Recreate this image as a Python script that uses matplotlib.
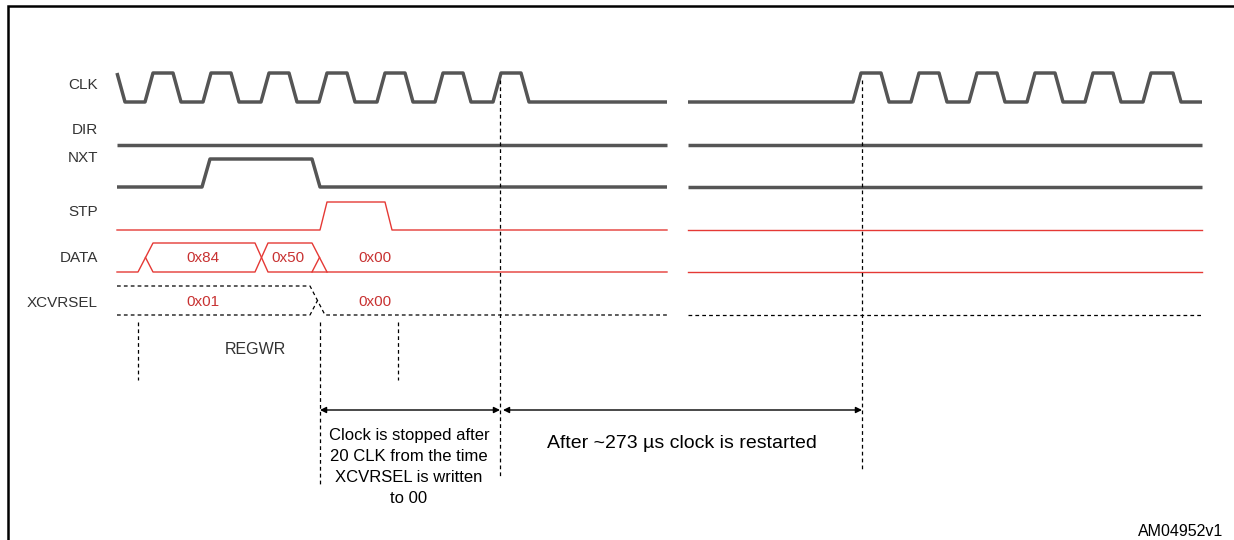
"""
ULPI register write / clock stop timing diagram.
"""

import matplotlib
matplotlib.use("Agg")
import matplotlib.pyplot as plt

GRAY = '#555555'
RED = '#e53935'
TXT_RED = '#c83232'
LABEL = '#333333'

# signal names and where their labels sit (row centre, px)
signal_names = ['CLK', 'DIR', 'NXT', 'STP', 'DATA', 'XCVRSEL']
label_y = [85, 130, 158, 212, 258, 303]

# levels of each row (low, high)
clk_lv = (102, 73)
dir_lv = 145
nxt_lv = (187, 159)
stp_lv = (230, 202)
data_lv = (272, 243)
xcvr_lv = (315, 286)

# time span of the two drawn segments (gap = time cut)
seg1 = (117, 667)
seg2 = (688, 1202)

# clock edges (start of each transition)
clk_edges_1 = [117, 145, 173, 203, 231, 261, 289, 319, 347, 377, 405, 435, 463, 493, 521]
clk_edges_2 = [853, 881, 911, 939, 969, 997, 1027, 1055, 1085, 1113, 1143, 1173]
nxt_edges = [202, 312]
stp_edges = [320, 385]

# bus events: open, cross, close
data_open, data_cross, data_close = 138, 255, 312
xcvr_close = 310
data_values = ['0x84', '0x50', '0x00']
xcvr_values = ['0x01', '0x00']

# vertical markers (x, y top, y bottom)
markers = [(138, 322, 380), (320, 322, 485), (398, 322, 380), (500, 80, 476), (862, 80, 470)]
arrow_y = 410


def wave(t0, t1, edges, start_high, lo, hi, ramp=8):
    lvl = start_high
    xs, ys = [t0], [hi if lvl else lo]
    for e in edges:
        xs += [e, e + ramp]
        ys += [hi if lvl else lo, lo if lvl else hi]
        lvl = not lvl
    xs.append(t1)
    ys.append(hi if lvl else lo)
    return xs, ys


fig = plt.figure(figsize=(12.34, 5.4), dpi=100)
ax = fig.add_axes([0, 0, 1, 1])
ax.set_xlim(0, 1234)
ax.set_ylim(540, 0)
ax.axis('off')

# frame (only top and left edges are inside the picture)
ax.plot([8, 8, 1240], [545, 6, 6], color='black', lw=1.8, solid_joinstyle='miter')

thick = dict(color=GRAY, lw=2.5, solid_capstyle='butt', solid_joinstyle='round')
thin = dict(color=RED, lw=1.0)
dash = dict(color='black', lw=0.9, ls=(0, (3, 2.5)))

# CLK
ax.plot(*wave(*seg1, clk_edges_1, True, *clk_lv), **thick)
ax.plot(*wave(*seg2, clk_edges_2, False, *clk_lv), **thick)

# DIR, NXT, STP
for s in (seg1, seg2):
    ax.plot(s, [dir_lv, dir_lv], **thick)
ax.plot(*wave(*seg1, nxt_edges, False, *nxt_lv), **thick)
ax.plot(seg2, [nxt_lv[0]] * 2, **thick)
ax.plot(*wave(*seg1, stp_edges, False, *stp_lv, ramp=7), **thin)
ax.plot(seg2, [stp_lv[0]] * 2, **thin)

# DATA bus
lo, hi = data_lv
mid = (lo + hi) / 2
r = 15
ax.plot([seg1[0], data_open, data_open + r, data_cross, data_cross + 13, data_close, data_close + r, seg1[1]],
        [lo, lo, hi, hi, lo, lo, lo, lo], **thin)
ax.plot([data_open + r / 2, data_open + r, data_cross, data_cross + 13, data_close, data_close + r],
        [mid, lo, lo, hi, hi, lo], **thin)
ax.plot([data_close, data_close + r / 2], [lo, mid], **thin)
ax.plot(seg2, [lo, lo], **thin)

# XCVRSEL bus
lo, hi = xcvr_lv
mid = (lo + hi) / 2
ax.plot([seg1[0], xcvr_close, xcvr_close + r, seg1[1]], [hi, hi, lo, lo], **dash)
ax.plot([seg1[0], xcvr_close, xcvr_close + r / 2], [lo, lo, mid], **dash)
ax.plot(seg2, [lo, lo], **dash)

# bus values
bus_font = dict(color=TXT_RED, fontsize=11, ha='center', va='center',
                family=['Liberation Sans Narrow', 'Liberation Sans'])
for x, v in zip([203, 288, 375], data_values):
    ax.text(x, 258, v, **bus_font)
for x, v in zip([203, 375], xcvr_values):
    ax.text(x, 302, v, **bus_font)

# signal labels
for name, y in zip(signal_names, label_y):
    ax.text(98, y, name, ha='right', va='center', fontsize=11, color=LABEL,
            family='Liberation Sans')
ax.text(255, 350, 'REGWR', ha='center', va='center', fontsize=11.5, color=LABEL,
        family='Liberation Sans')

# vertical markers
for x, y0, y1 in markers:
    ax.plot([x, x], [y0, y1], **dash)

# interval arrows
for a, b in [(320, 500), (503, 862)]:
    ax.annotate('', xy=(b, arrow_y), xytext=(a, arrow_y),
                arrowprops=dict(arrowstyle='<|-|>', color='black', lw=1.0,
                                mutation_scale=9, shrinkA=0, shrinkB=0))

ax.text(409, 467, 'Clock is stopped after\n20 CLK from the time\nXCVRSEL is written\nto 00',
        ha='center', va='center', fontsize=12, linespacing=1.5, color='black',
        family='Liberation Sans')
ax.text(682, 444, 'After ~273 \u00b5s clock is restarted', ha='center', va='center',
        fontsize=14, color='black', family='Liberation Sans')
ax.text(1223, 532, 'AM04952v1', ha='right', va='center', fontsize=11.5, color='black',
        family='Liberation Sans')

fig.savefig('out.png', dpi=100)
plt.close(fig)
